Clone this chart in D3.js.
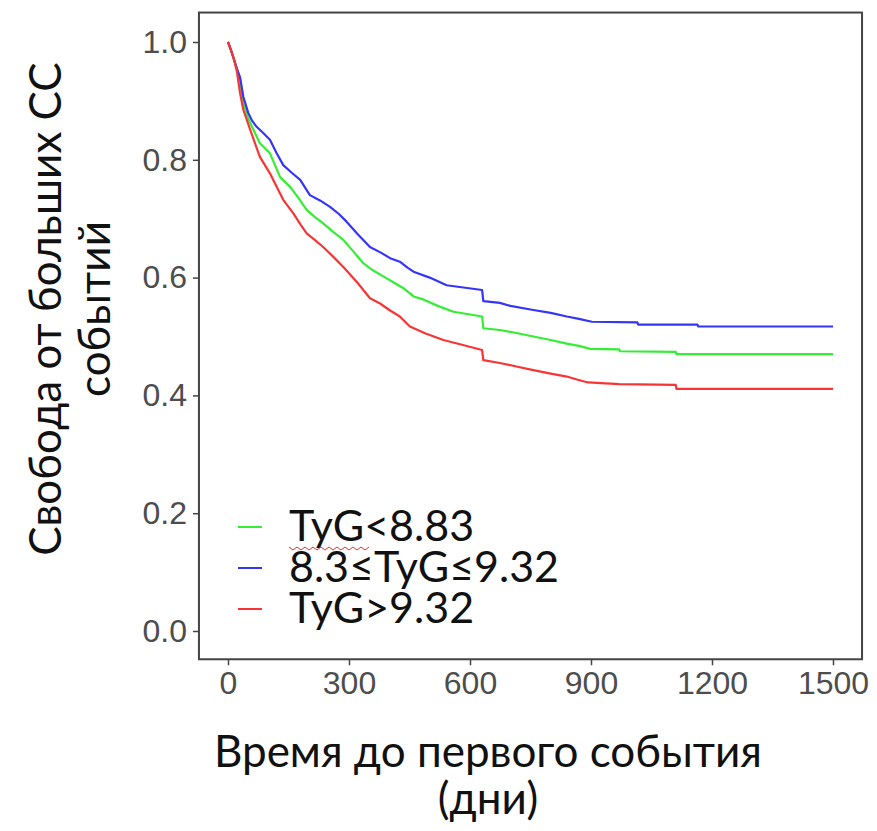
<!DOCTYPE html>
<html>
<head>
<meta charset="utf-8">
<script src="https://cdn.jsdelivr.net/npm/d3@7"></script>
<style>
  html, body { margin: 0; padding: 0; background: #fff; }
</style>
</head>
<body>
<script>
// group labels and colours
const groups = ['TyG<8.83', '8.3≤TyG≤9.32', 'TyG>9.32'];
const colors = ['#33ee33', '#3535f8', '#f83535'];

// survival curves (days, survival); pairs of close
// days mark the visible drops
const daysLow = [0, 8, 15, 22, 30, 38, 50, 63, 79, 104, 129, 154, 175, 195, 215, 236, 260, 286, 310, 336, 360, 385, 410, 435, 460, 484, 520, 559, 630, 633, 674, 715, 757, 800, 840, 870, 898, 970, 972, 1110, 1112, 1500];
const survLow = [1.0, 0.985, 0.97, 0.955, 0.935, 0.896, 0.87, 0.851, 0.828, 0.811, 0.771, 0.754, 0.735, 0.715, 0.703, 0.692, 0.678, 0.664, 0.645, 0.624, 0.612, 0.602, 0.592, 0.582, 0.568, 0.563, 0.552, 0.542, 0.534, 0.514, 0.511, 0.506, 0.500, 0.494, 0.488, 0.484, 0.479, 0.478, 0.475, 0.474, 0.470, 0.470];

const daysMid = [0, 8, 15, 22, 30, 38, 50, 60, 71, 88, 104, 120, 137, 158, 179, 203, 228, 253, 275, 294, 320, 352, 380, 402, 426, 445, 460, 500, 542, 630, 633, 674, 700, 757, 800, 840, 870, 902, 1015, 1017, 1164, 1166, 1500];
const survMid = [1.0, 0.985, 0.97, 0.955, 0.94, 0.907, 0.88, 0.866, 0.856, 0.845, 0.834, 0.812, 0.791, 0.778, 0.766, 0.740, 0.731, 0.720, 0.708, 0.695, 0.675, 0.652, 0.642, 0.633, 0.627, 0.617, 0.610, 0.600, 0.587, 0.579, 0.560, 0.557, 0.552, 0.545, 0.540, 0.534, 0.530, 0.525, 0.524, 0.520, 0.520, 0.517, 0.517];

const daysHigh = [0, 8, 15, 22, 30, 38, 55, 67, 79, 104, 120, 137, 162, 180, 195, 215, 236, 260, 286, 320, 352, 377, 400, 426, 451, 490, 534, 580, 630, 633, 674, 715, 757, 800, 840, 865, 893, 970, 1110, 1112, 1500];
const survHigh = [1.0, 0.985, 0.97, 0.95, 0.913, 0.885, 0.851, 0.828, 0.805, 0.777, 0.755, 0.732, 0.709, 0.69, 0.675, 0.664, 0.652, 0.636, 0.618, 0.592, 0.565, 0.556, 0.545, 0.534, 0.517, 0.505, 0.494, 0.486, 0.477, 0.460, 0.455, 0.449, 0.443, 0.437, 0.432, 0.427, 0.422, 0.419, 0.418, 0.411, 0.411];

const xTicks = [0, 300, 600, 900, 1200, 1500];
const yTicks = [0, 0.2, 0.4, 0.6, 0.8, 1.0];

const width = 877, height = 831;

const series = [
  {days: daysLow, surv: survLow},
  {days: daysMid, surv: survMid},
  {days: daysHigh, surv: survHigh}
];

const x = d3.scaleLinear().domain([0, 1500]).range([228, 833]);
const y = d3.scaleLinear().domain([0, 1]).range([631, 42]);

// ggplot-style 5% expansion
const panel = {x0: x(-72), x1: x(1572), y0: y(1.05), y1: y(-0.048)};

const svg = d3.select('body').append('svg')
  .attr('width', width)
  .attr('height', height)
  .attr('viewBox', [0, 0, width, height]);

const line = d3.line()
  .x(d => x(d[0]))
  .y(d => y(d[1]));

svg.append('g')
  .selectAll('path')
  .data(series)
  .join('path')
  .attr('fill', 'none')
  .attr('stroke', (d, i) => colors[i])
  .attr('stroke-width', 2.2)
  .attr('stroke-linejoin', 'round')
  .attr('d', d => line(d.days.map((t, j) => [t, d.surv[j]])));

svg.append('rect')
  .attr('x', panel.x0)
  .attr('y', panel.y0)
  .attr('width', panel.x1 - panel.x0)
  .attr('height', panel.y1 - panel.y0)
  .attr('fill', 'none')
  .attr('stroke', '#444')
  .attr('stroke-width', 2);

// axes
const gx = svg.append('g')
  .attr('transform', `translate(0,${panel.y1})`)
  .call(d3.axisBottom(x).tickValues(xTicks).tickSize(6).tickPadding(6).tickFormat(d3.format('d')));
const gy = svg.append('g')
  .attr('transform', `translate(${panel.x0},0)`)
  .call(d3.axisLeft(y).tickValues(yTicks).tickSize(6).tickPadding(6).tickFormat(d3.format('.1f')));

[gx, gy].forEach(g => {
  g.select('.domain').remove();
  g.selectAll('.tick line').attr('stroke', '#444').attr('stroke-width', 1.5);
  g.selectAll('.tick text')
    .attr('fill', '#4d4d4d')
    .style('font', '32px "Liberation Sans", Arial, sans-serif');
});

const titleFont = '44px Lato, "Open Sans", sans-serif';

// x title
svg.append('g')
  .selectAll('text')
  .data(['Время до первого события', '(дни)'])
  .join('text')
  .attr('x', 488)
  .attr('y', (d, i) => 767 + i * 47)
  .attr('text-anchor', 'middle')
  .style('font', titleFont)
  .attr('fill', '#111')
  .text(d => d);

// y title
svg.append('g')
  .attr('transform', 'translate(0,309) rotate(-90)')
  .selectAll('text')
  .data(['Свобода от больших СС', 'событий'])
  .join('text')
  .attr('x', 0)
  .attr('y', (d, i) => 61 + i * 49)
  .attr('text-anchor', 'middle')
  .style('font', titleFont)
  .attr('fill', '#111')
  .text(d => d);

// legend
const legend = svg.append('g')
  .selectAll('g')
  .data(groups)
  .join('g')
  .attr('transform', (d, i) => `translate(238,${527 + i * 41})`);

legend.append('line')
  .attr('x1', 0).attr('x2', 24)
  .attr('stroke', (d, i) => colors[i])
  .attr('stroke-width', 2);

legend.append('text')
  .attr('x', 51)
  .attr('y', 14)
  .style('font', '43px Lato, "Open Sans", sans-serif')
  .attr('fill', '#111')
  .text(d => d);

// spell-check squiggle under "TyG"
const squiggle = d3.range(0, 21).map(i => [289 + i * 4, 547 + (i % 2 ? 3 : 0)]);
svg.append('path')
  .attr('d', d3.line()(squiggle))
  .attr('fill', 'none')
  .attr('stroke', '#e83030')
  .attr('stroke-width', 1);
</script>
</body>
</html>
